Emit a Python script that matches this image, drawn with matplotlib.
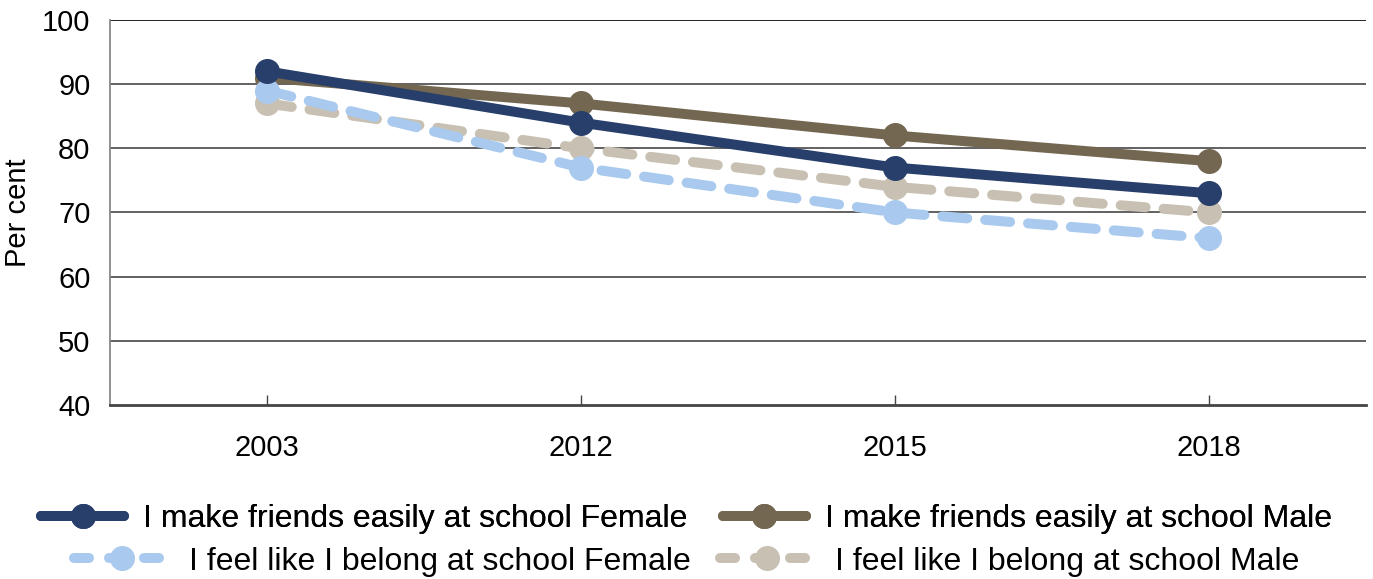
import matplotlib
matplotlib.use("Agg")
import matplotlib.pyplot as plt
import matplotlib.lines as mlines

plt.rcParams['font.family'] = ['Liberation Sans', 'DejaVu Sans']

years = ['2003', '2012', '2015', '2018']
friends_female = [92, 84, 77, 73]
friends_male = [91, 87, 82, 78]
belong_female = [89, 77, 70, 66]
belong_male = [87, 80, 74, 70]

navy = '#283F6B'
brown = '#736751'
lightblue = '#A9CAEE'
beige = '#C8C0B2'

fig = plt.figure(figsize=(13.73, 5.79), dpi=100)
ax = fig.add_axes([0.0801, 0.3005, 0.9148, 0.665])

x = range(len(years))
lw = 7.2
ms = 17

def dashed(vals, c, z):
    l, = ax.plot(x, vals, color=c, lw=lw, marker='o', ms=ms, zorder=z,
                 dash_capstyle='round', solid_capstyle='round')
    l.set_dashes((2.5, 1.8))
    return l

dashed(belong_male, beige, 3)
ax.plot(x, friends_male, color=brown, lw=lw, marker='o', ms=ms, zorder=4,
        solid_capstyle='round')
dashed(belong_female, lightblue, 5)
ax.plot(x, friends_female, color=navy, lw=lw, marker='o', ms=ms, zorder=6,
        solid_capstyle='round')

ax.set_xlim(-0.5, 3.5)
ax.set_ylim(40, 100)
ax.set_yticks(range(40, 101, 10))
ax.set_xticks(list(x))
ax.set_xticklabels(years)
for v in range(50, 101, 10):
    ax.axhline(v, color='#111111' if v == 100 else '#555555', lw=1.3, zorder=1)

for s in ['top', 'right']:
    ax.spines[s].set_visible(False)
ax.spines['left'].set_color('#888888')
ax.spines['left'].set_linewidth(1.3)
ax.spines['bottom'].set_color('#444444')
ax.spines['bottom'].set_linewidth(2)

ax.tick_params(axis='x', direction='in', length=7, width=1, color='#444444',
               labelsize=21, pad=21)
ax.tick_params(axis='y', length=0, labelsize=21, pad=14)
ax.set_ylabel('Per cent', fontsize=21)
ax.yaxis.set_label_coords(-0.062, 0.5)

def handle(c, lab, dash):
    h = mlines.Line2D([], [], color=c, lw=lw, marker='o', ms=ms, label=lab,
                      solid_capstyle='round', dash_capstyle='round')
    if dash:
        h.set_dashes((1.5, 2.0))
    return h

row1 = [handle(navy, 'I make friends easily at school Female', False),
        handle(brown, 'I make friends easily at school Male', False)]
row2 = [handle(lightblue, 'I feel like I belong at school Female', True),
        handle(beige, 'I feel like I belong at school Male', True)]

leg1 = fig.legend(handles=row1, loc='center', bbox_to_anchor=(0.5, 0.104),
                  ncol=2, frameon=False, fontsize=23, handlelength=2.6,
                  columnspacing=1.1, handletextpad=0.6)
leg2 = fig.legend(handles=row2, loc='center', bbox_to_anchor=(0.5, 0.030),
                  ncol=2, frameon=False, fontsize=23, handlelength=3.0,
                  columnspacing=0.9, handletextpad=0.6)
fig.add_artist(leg1)

fig.savefig('out.png', dpi=100)
